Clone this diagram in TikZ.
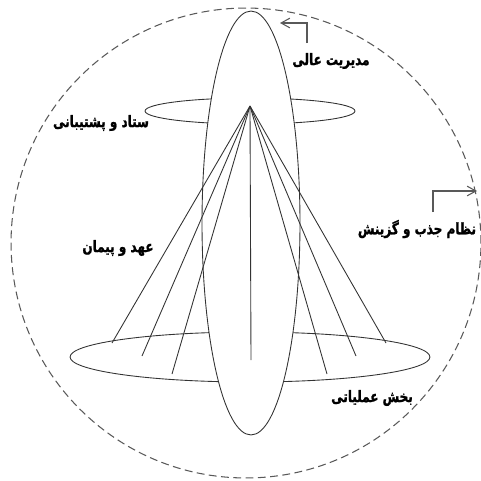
\documentclass[tikz,border=0pt]{standalone}
\usepackage{fontspec}
\newfontfamily\farsi[Script=Arabic, FakeStretch=0.76, BoldFeatures={FakeBold=1.2}]{DejaVu Sans}
\TeXXeTstate=1
\usetikzlibrary{arrows.meta,shapes.geometric}

\begin{document}
\begin{tikzpicture}[x=0.02cm, y=-0.02cm, line width=0.5pt,
  oval/.style={draw=black!80, ellipse, inner sep=0pt},
  lbl/.style={inner sep=0pt, font=\farsi\bfseries\fontsize{9}{10}\selectfont},
  pointer/.style={draw=black!65, line width=0.6pt, -{Straight Barb[length=5pt,width=5.5pt]}}]
  \useasboundingbox (0,0) rectangle (481,481);

  % side ovals, behind the tall one
  \node[oval, minimum width=4.2cm, minimum height=0.52cm] (staff) at (250,111) {};
  \node[oval, minimum width=7.2cm, minimum height=1cm] (ops) at (250,357) {};

  % management oval
  \node[oval, fill=white, minimum width=1.96cm, minimum height=8.48cm] (top) at (251,223) {};

  % fan of lines
  \coordinate (apex) at (250,106);
  \foreach \i/\x/\y in {1/112/343, 2/142/356, 3/172/374, 4/251/360, 5/327/374, 6/356/356, 7/386/343} {
    \coordinate (f\i) at (\x,\y);
    \draw[black!80] (apex) -- (f\i);
  }

  % outer boundary
  \node[draw=black!65, dash pattern=on 4.5pt off 2.5pt, line width=0.6pt, circle, inner sep=0pt,
    minimum size=9.4cm] (env) at (246,243) {};

  % labels
  \node[lbl] (mgmt) at (331,61) {\beginR مدیریت عالی\endR};
  \node[lbl] (support) at (101,123) {\beginR ستاد و پشتیبانی\endR};
  \node[lbl] (hr) at (417,229) {\beginR نظام جذب و گزینش\endR};
  \node[lbl] (contract) at (118,248) {\beginR عهد و پیمان\endR};
  \node[lbl] (opsl) at (372,398) {\beginR بخش عملیاتی\endR};

  % pointers
  \coordinate (p1) at (307,43);
  \coordinate (p1e) at (280,23);
  \draw[pointer] (p1) |- (p1e);
  \coordinate (p2) at (433,212);
  \coordinate (p2e) at (477,191);
  \draw[pointer] (p2) |- (p2e);
\end{tikzpicture}
\end{document}
